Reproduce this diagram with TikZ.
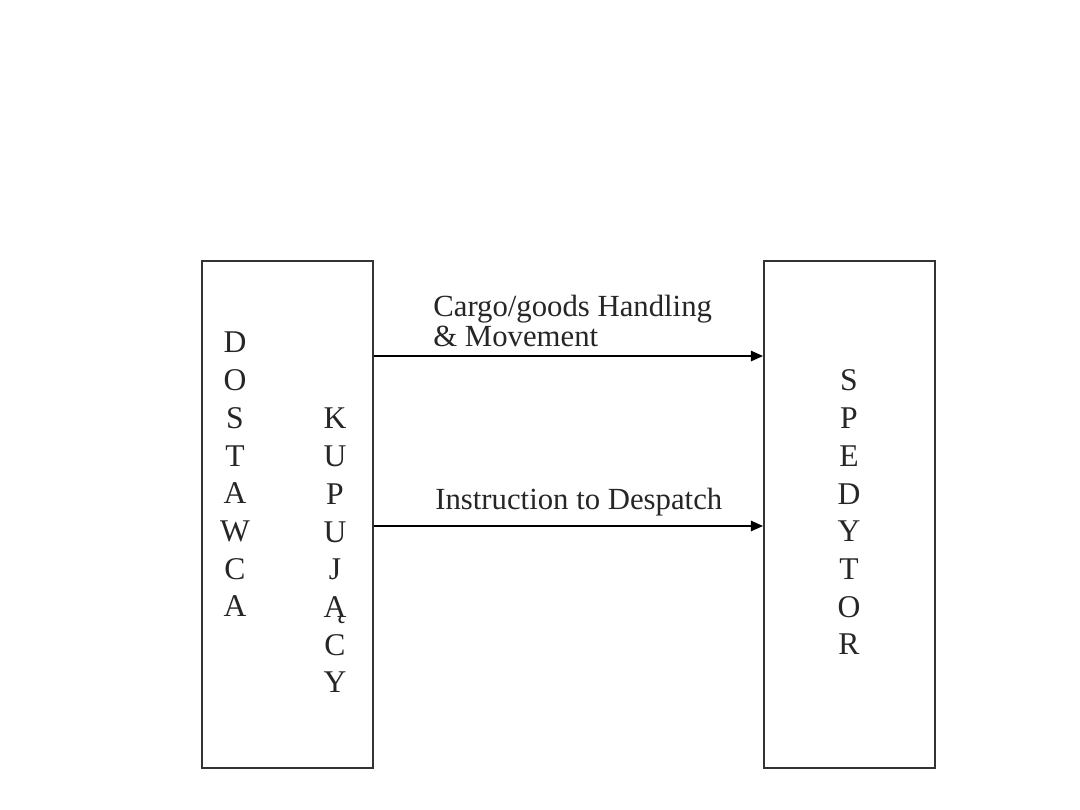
\documentclass[tikz,border=0pt]{standalone}
\usepackage{fontspec}
\setmainfont{Liberation Serif}
\usetikzlibrary{arrows.meta}
\begin{document}
\begin{tikzpicture}[x=0.02cm,y=-0.02cm,
  box/.style={draw=black!80,line width=1.1pt,minimum width=3.42cm,minimum height=10.14cm,inner sep=0pt},
  letter/.style={inner sep=0pt,anchor=base,font=\fontsize{18}{21}\selectfont,text=black!85},
  lbl/.style={inner sep=0pt,anchor=base west,font=\fontsize{17.5}{20}\selectfont,text=black!85},
  arr/.style={line width=0.9pt,-{Triangle[length=7pt,width=6pt]}}]
\useasboundingbox (0,0) rectangle (1080,810);
\node[box] (dk) at (287.5,514.5) {};
\node[box] (sp) at (849.5,514.5) {};
\foreach \ch [count=\i] in {D,O,S,T,A,W,C,A}
  \node[letter] (dost\i) at (235,{353+37.7*(\i-1)}) {\ch};
\foreach \ch [count=\i] in {K,U,P,U,J,Ą,C,Y}
  \node[letter] (kup\i) at (335,{429+37.7*(\i-1)}) {\ch};
\foreach \ch [count=\i] in {S,P,E,D,Y,T,O,R}
  \node[letter] (sped\i) at (849,{391+37.7*(\i-1)}) {\ch};
\draw[arr] ([yshift=3.17cm]dk.east) -- ([yshift=3.17cm]sp.west);
\draw[arr] ([yshift=-0.23cm]dk.east) -- ([yshift=-0.23cm]sp.west);
\node[lbl] (l1) at (433,317) {Cargo/goods Handling};
\node[lbl] (l2) at (433,347) {\& Movement};
\node[lbl] (l3) at (435,510) {Instruction to Despatch};
\end{tikzpicture}
\end{document}
